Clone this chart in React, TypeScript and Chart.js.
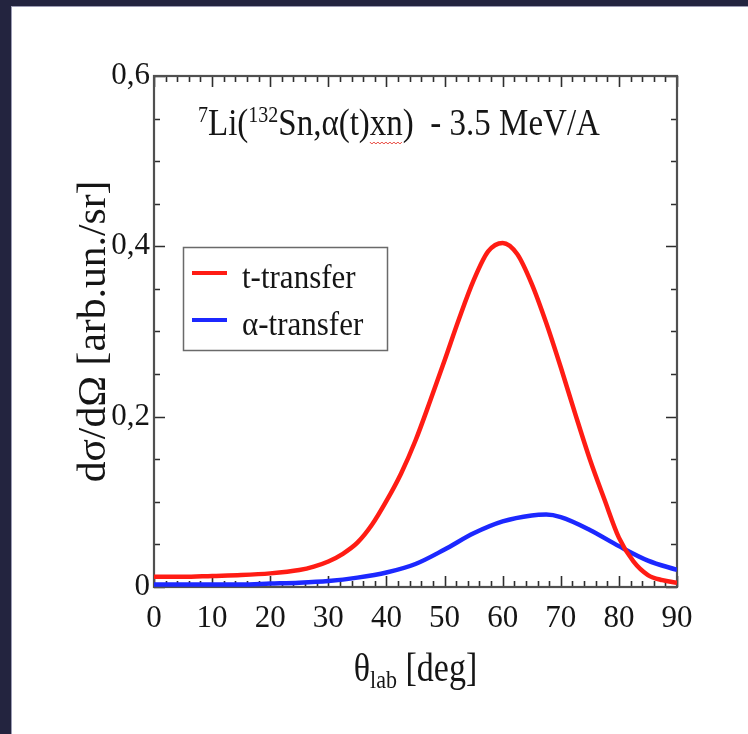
import React, { useEffect, useRef } from "react";
import { Chart, registerables } from "chart.js";

Chart.register(...registerables);

// ---- data ----
const tTransferTheta = [0, 5, 10, 15, 20, 25, 27.5, 30, 32.5, 35, 37.5, 40, 42.5, 45, 47.5, 50, 52.5, 55, 57.5, 60, 62.5, 65, 67.5, 70, 72.5, 75, 77.5, 80, 82.5, 85, 87.5, 90];
const tTransferValues = [0.012, 0.012, 0.013, 0.014, 0.016, 0.02, 0.024, 0.03, 0.039, 0.052, 0.073, 0.101, 0.133, 0.172, 0.218, 0.266, 0.315, 0.36, 0.394, 0.404, 0.391, 0.356, 0.31, 0.258, 0.203, 0.15, 0.103, 0.058, 0.03, 0.014, 0.008, 0.005];
const alphaTransferTheta = [0, 5, 10, 15, 20, 25, 30, 35, 40, 45, 50, 55, 60, 65, 67.5, 70, 75, 80, 85, 90];
const alphaTransferValues = [0.003, 0.003, 0.003, 0.003, 0.004, 0.005, 0.007, 0.011, 0.017, 0.027, 0.044, 0.063, 0.077, 0.084, 0.085, 0.082, 0.067, 0.048, 0.031, 0.02];
const seriesLabels = ["t-transfer", "α-transfer"];
const seriesColors = ["rgb(255,28,20)", "rgb(28,40,255)"];
const xTickValues = [0, 10, 20, 30, 40, 50, 60, 70, 80, 90];
const xTickLabels = ["0", "10", "20", "30", "40", "50", "60", "70", "80", "90"];
const yTickValues = [0, 0.2, 0.4, 0.6];
const yTickLabels = ["0", "0,2", "0,4", "0,6"];
const xMinorStep = 2;
const yMinorStep = 0.05;

const FONT = '"Liberation Serif", "Times New Roman", Times, serif';
const INK = "#151515";

function drawStretched(c: CanvasRenderingContext2D, text: string, x: number, y: number, size: number, stretch: number) {
  c.save();
  c.translate(x, y);
  c.scale(1, stretch);
  c.font = `${size}px ${FONT}`;
  c.textAlign = "left";
  c.textBaseline = "alphabetic";
  c.fillText(text, 0, 0);
  c.restore();
}

function measure(c: CanvasRenderingContext2D, text: string, size: number) {
  c.font = `${size}px ${FONT}`;
  return c.measureText(text).width;
}

export default function App() {
  const ref = useRef<HTMLCanvasElement>(null);

  useEffect(() => {
    document.body.style.margin = "0";
    const canvas = ref.current;
    if (!canvas) return;

    const framePlugin = {
      id: "frame",
      beforeDatasetsDraw(chart: any) {
        const c: CanvasRenderingContext2D = chart.ctx;
        const a = chart.chartArea;
        const xs = chart.scales.x;
        const ys = chart.scales.y;
        c.save();
        c.strokeStyle = "#2e2e2e";
        c.lineWidth = 1.6;
        c.beginPath();
        const xMax = xTickValues[xTickValues.length - 1];
        for (let i = 0; i * xMinorStep <= xMax + 1e-9; i++) {
          const v = i * xMinorStep;
          const px = Math.round(xs.getPixelForValue(v)) + 0.5;
          const len = i % 5 === 0 ? 11 : 6;
          c.moveTo(px, a.bottom);
          c.lineTo(px, a.bottom - len);
          c.moveTo(px, a.top);
          c.lineTo(px, a.top + len);
        }
        const yMax = yTickValues[yTickValues.length - 1];
        for (let i = 0; i * yMinorStep <= yMax + 1e-9; i++) {
          const v = i * yMinorStep;
          const py = Math.round(ys.getPixelForValue(v)) + 0.5;
          const len = i % 4 === 0 ? 11 : 6;
          c.moveTo(a.left, py);
          c.lineTo(a.left + len, py);
          c.moveTo(a.right, py);
          c.lineTo(a.right - len, py);
        }
        c.stroke();
        c.strokeStyle = "#505050";
        c.lineWidth = 2.2;
        c.strokeRect(a.left, a.top, a.right - a.left, a.bottom - a.top);
        c.restore();
      },
      afterDraw(chart: any) {
        const c: CanvasRenderingContext2D = chart.ctx;
        const a = chart.chartArea;
        c.save();
        c.fillStyle = INK;

        // --- title inside plot ---
        const S = 1.15;
        const mainFs = 33;
        const supFs = 20;
        let x = 198;
        const base = 135;
        const pieces: { t: string; sup?: boolean; wavy?: boolean }[] = [
          { t: "7", sup: true },
          { t: "Li(" },
          { t: "132", sup: true },
          { t: "Sn,α(t)" },
          { t: "xn", wavy: true },
          { t: ")  - 3.5 MeV/A" },
        ];
        for (const p of pieces) {
          const fs = p.sup ? supFs : mainFs;
          const y = p.sup ? base - 13 : base;
          drawStretched(c, p.t, x, y, fs, S);
          const w = measure(c, p.t, fs);
          if (p.wavy) {
            c.save();
            c.strokeStyle = "#e8443a";
            c.lineWidth = 1;
            c.beginPath();
            for (let k = 0; k <= w; k += 2) {
              const yy = base + 7 + ((k / 2) % 2 === 0 ? 0 : 2);
              if (k === 0) c.moveTo(x + k, yy);
              else c.lineTo(x + k, yy);
            }
            c.stroke();
            c.restore();
          }
          x += w;
        }

        // --- x axis title: θlab [deg] ---
        const xFs = 34;
        const subFs = 22;
        const wTheta = measure(c, "θ", xFs);
        const wLab = measure(c, "lab", subFs);
        const wDeg = measure(c, " [deg]", xFs);
        const total = wTheta + wLab + wDeg;
        let tx = (a.left + a.right) / 2 - total / 2;
        const xb = 681;
        drawStretched(c, "θ", tx, xb, xFs, S);
        tx += wTheta;
        drawStretched(c, "lab", tx, xb + 7, subFs, S);
        tx += wLab;
        drawStretched(c, " [deg]", tx, xb, xFs, S);

        // --- y axis title ---
        c.save();
        c.translate(105, (a.top + a.bottom) / 2);
        c.rotate(-Math.PI / 2);
        c.scale(1.04, 1);
        c.font = `40px ${FONT}`;
        c.textAlign = "center";
        c.textBaseline = "alphabetic";
        c.fillText("dσ/dΩ [arb.un./sr]", 0, 0);
        c.restore();

        // --- legend ---
        c.save();
        c.strokeStyle = "#6a6a6a";
        c.lineWidth = 1.5;
        c.strokeRect(183.5, 247.5, 204, 103);
        const rows = [273, 320];
        chart.data.datasets.forEach((ds: any, i: number) => {
          c.strokeStyle = ds.borderColor;
          c.lineWidth = 4;
          c.beginPath();
          c.moveTo(192, rows[i]);
          c.lineTo(227, rows[i]);
          c.stroke();
          c.fillStyle = INK;
          drawStretched(c, ds.label, 242, rows[i] + 15, 31, 1.1);
        });
        c.restore();

        c.restore();
      },
    };

    const chart = new Chart(canvas, {
      type: "line",
      data: {
        datasets: [
          {
            label: seriesLabels[0],
            data: tTransferTheta.map((t, i) => ({ x: t, y: tTransferValues[i] })),
            borderColor: seriesColors[0],
            borderWidth: 4.5,
            pointRadius: 0,
            fill: false,
            cubicInterpolationMode: "monotone",
          },
          {
            label: seriesLabels[1],
            data: alphaTransferTheta.map((t, i) => ({ x: t, y: alphaTransferValues[i] })),
            borderColor: seriesColors[1],
            borderWidth: 4.5,
            pointRadius: 0,
            fill: false,
            cubicInterpolationMode: "monotone",
          },
        ],
      },
      options: {
        animation: false,
        responsive: true,
        maintainAspectRatio: false,
        layout: { padding: { left: 0, top: 76, right: 71, bottom: 0 } },
        plugins: { legend: { display: false }, tooltip: { enabled: false }, title: { display: false } },
        scales: {
          x: {
            type: "linear",
            min: xTickValues[0],
            max: xTickValues[xTickValues.length - 1],
            afterBuildTicks: (s: any) => {
              s.ticks = xTickValues.map((v) => ({ value: v }));
            },
            afterFit: (s: any) => {
              s.height = 147;
            },
            grid: { display: false, drawTicks: false },
            border: { display: false },
            ticks: {
              padding: 13,
              color: INK,
              font: { family: FONT, size: 31 },
              maxRotation: 0,
              autoSkip: false,
              callback: (_v: any, i: number) => xTickLabels[i],
            },
          },
          y: {
            type: "linear",
            min: yTickValues[0],
            max: yTickValues[yTickValues.length - 1],
            afterBuildTicks: (s: any) => {
              s.ticks = yTickValues.map((v) => ({ value: v }));
            },
            afterFit: (s: any) => {
              s.width = 154;
            },
            grid: { display: false, drawTicks: false },
            border: { display: false },
            ticks: {
              padding: 4,
              color: INK,
              font: { family: FONT, size: 31 },
              autoSkip: false,
              callback: (_v: any, i: number) => yTickLabels[i],
            },
          },
        },
      },
      plugins: [framePlugin],
    } as any);

    return () => chart.destroy();
  }, []);

  return (
    <div style={{ position: "fixed", left: 0, top: 0, width: 748, height: 734, background: "#23243f", overflow: "hidden" }}>
      <div
        style={{
          position: "absolute",
          left: 11,
          top: 6,
          right: 0,
          bottom: 0,
          background: "#ffffff",
          borderLeft: "1px solid #9c9cb4",
          borderTop: "1px solid #9c9cb4",
          boxSizing: "border-box",
        }}
      />
      <div style={{ position: "absolute", left: 0, top: 0, width: 748, height: 734 }}>
        <canvas ref={ref} />
      </div>
    </div>
  );
}
